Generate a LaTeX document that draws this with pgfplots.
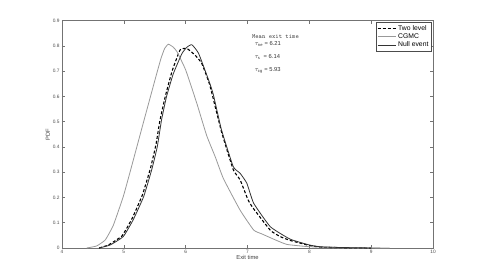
\documentclass[border=0pt]{standalone}
\usepackage{pgfplots}
\pgfplotsset{compat=1.18}
\usepackage{fontspec}
\setmainfont{Liberation Sans}
\begin{document}
\begin{tikzpicture}
\begin{axis}[name=ax, width=371pt, height=227.3pt, scale only axis,
  xmin=4, xmax=10, ymin=0, ymax=0.9,
  xtick={4,5,6,7,8,9,10}, xticklabels={4,5,6,7,8,9,10},
  ytick={0,0.1,0.2,0.3,0.4,0.5,0.6,0.7,0.8,0.9},
  yticklabels={0,0.1,0.2,0.3,0.4,0.5,0.6,0.7,0.8,0.9},
  tick align=inside, major tick length=3pt,
  axis line style={black!55, line width=0.6pt},
  every tick/.style={black!55, line width=0.5pt},
  tick label style={font=\fontsize{4.8}{5}\selectfont, text=black!70},
  xticklabel style={yshift=1pt}, yticklabel style={xshift=1pt},
  xlabel={Exit time}, ylabel={PDF},
  label style={font=\fontsize{5.8}{6}\selectfont, text=black!75},
  xlabel style={yshift=5pt}, ylabel style={yshift=-4pt},
  legend style={at={(rel axis cs:1,1)}, anchor=north east, xshift=-1.5pt, yshift=-1.5pt,
    font=\fontsize{6.8}{7}\selectfont, inner sep=0.8pt, row sep=-2pt, draw=black!70, line width=0.5pt},
  legend cell align=left,
  legend image code/.code={\draw[#1] (0pt,0pt) -- (18pt,0pt);},
  clip=false]
\addplot[black, line width=1.1pt, dash pattern=on 3pt off 2pt, smooth, tension=0.25] coordinates {
(4.60,0.000) (4.75,0.012) (4.97,0.048) (5.13,0.115) (5.30,0.210) (5.43,0.315) (5.52,0.410) (5.58,0.500)
(5.67,0.600) (5.78,0.700) (5.91,0.784) (6.02,0.790) (6.15,0.764) (6.26,0.731) (6.39,0.645) (6.58,0.460)
(6.77,0.310) (6.88,0.270) (7.01,0.190) (7.10,0.155) (7.37,0.070) (7.53,0.045) (7.69,0.030) (8.00,0.010)
(8.20,0.003) (8.60,0.001) (9.00,0.000)};
\addlegendentry{Two level}
\addplot[black!40, line width=0.8pt, smooth, tension=0.25] coordinates {
(4.40,0.000) (4.56,0.008) (4.70,0.032) (4.83,0.090) (4.99,0.203) (5.10,0.300) (5.21,0.400) (5.32,0.500)
(5.42,0.590) (5.52,0.680) (5.60,0.750) (5.66,0.790) (5.72,0.807) (5.80,0.795) (5.86,0.777) (6.00,0.705) (6.18,0.573)
(6.34,0.445) (6.48,0.360) (6.61,0.275) (6.88,0.150) (7.10,0.071) (7.23,0.056) (7.47,0.030) (7.64,0.014)
(8.00,0.005) (8.50,0.002) (9.30,0.000)};
\addlegendentry{CGMC}
\addplot[black!80, line width=0.8pt, smooth, tension=0.25] coordinates {
(4.60,0.000) (4.78,0.012) (4.99,0.045) (5.15,0.111) (5.32,0.203) (5.45,0.309) (5.54,0.400) (5.61,0.507)
(5.69,0.599) (5.80,0.690) (5.94,0.770) (6.02,0.795) (6.10,0.805) (6.21,0.770) (6.39,0.652) (6.45,0.605)
(6.58,0.467) (6.77,0.322) (6.88,0.296) (6.99,0.256) (7.10,0.177) (7.37,0.084) (7.69,0.035) (8.00,0.012)
(8.17,0.005) (8.50,0.002) (9.00,0.000)};
\addlegendentry{Null event}
\node[anchor=west, font=\ttfamily\fontsize{6.3}{7}\selectfont, text=black!75, inner sep=0pt] at (axis cs:7.07,0.839) {Mean exit time};
\node[anchor=west, font=\fontsize{5.8}{6}\selectfont, text=black!80, inner sep=0pt] at (axis cs:7.11,0.806) {$\tau_{\mathrm{ne}}$ = 6.21};
\node[anchor=west, font=\fontsize{5.8}{6}\selectfont, text=black!80, inner sep=0pt] at (axis cs:7.11,0.755) {$\tau_{\mathrm{s}}$ \ = 6.14};
\node[anchor=west, font=\fontsize{5.8}{6}\selectfont, text=black!80, inner sep=0pt] at (axis cs:7.11,0.703) {$\tau_{\mathrm{cg}}$ = 5.93};
\end{axis}
\pgfresetboundingbox
\path[use as bounding box] ([shift={(-62pt,-31pt)}]ax.south west) rectangle ([shift={(46pt,20.7pt)}]ax.north east);
\end{tikzpicture}
\end{document}
